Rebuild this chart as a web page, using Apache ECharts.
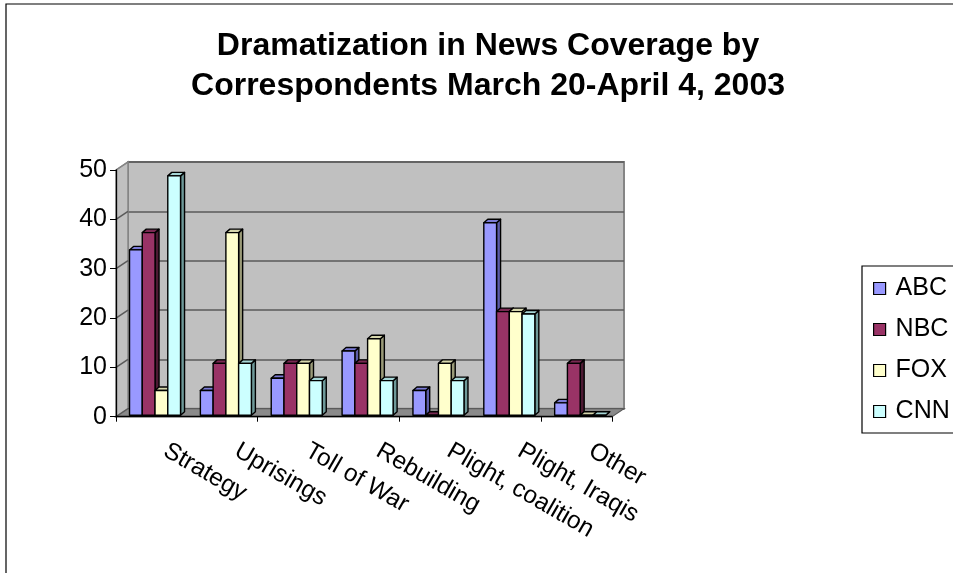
<!DOCTYPE html>
<html>
<head>
<meta charset="utf-8">
<script src="https://cdn.jsdelivr.net/npm/echarts@6/dist/echarts.min.js"></script>
<style>
html,body{margin:0;padding:0;background:#fff;}
#c{width:953px;height:573px;}
</style>
</head>
<body>
<div id="c"></div>
<script>
// ---- data ----
const categories = ['Strategy', 'Uprisings', 'Toll of War', 'Rebuilding', 'Plight, coalition', 'Plight, Iraqis', 'Other'];
const seriesNames = ['ABC', 'NBC', 'FOX', 'CNN'];
const abc = [33.5, 5, 7.5, 13, 5, 39, 2.5];
const nbc = [37, 10.5, 10.5, 10.5, 0, 21, 10.5];
const fox = [5, 37, 10.5, 15.5, 10.5, 21, 0];
const cnn = [48.5, 10.5, 7, 7, 7, 20.5, 0];
const yMin = 0, yMax = 50, yStep = 10;
const titleLines = ['Dramatization in News Coverage by', 'Correspondents March 20-April 4, 2003'];

// ---- styles ----
const FONT = 'Liberation Sans, Arial, sans-serif';
const faceColors = [
  {front: '#9999FF', top: '#7B7BD6', side: '#5C5CA8'},
  {front: '#993366', top: '#7A2952', side: '#4D1A33'},
  {front: '#FFFFCC', top: '#D6D6AC', side: '#9A9A78'},
  {front: '#CCFFFF', top: '#A6D6D6', side: '#6E9999'}
];
const allValues = [abc, nbc, fox, cnn];

const FRONT = {left: 116, top: 170, width: 496, height: 246.7};
const BACK = {left: 128, top: 162, width: 496, height: 246.7};
const BARS = {left: 119.6, top: 168.5, width: 496, height: 246.7};
const LABELS = {left: 130, top: 168.5, width: 496, height: 246.7};
const BAR_DX = 4, BAR_DY = -3.5;

function makeRender(sIdx) {
  return function (params, api) {
    const ci = api.value(0), v = api.value(1);
    const top = api.coord([ci, v]);
    const base = api.coord([ci, 0]);
    const band = api.size([1, 0])[0];
    const bw = band * 0.18;
    const gw = bw * 4;
    const x0 = top[0] - gw / 2 + sIdx * bw;
    const x1 = x0 + bw;
    const yt = top[1], yb = base[1];
    const c = faceColors[sIdx];
    const stroke = {stroke: '#000', lineWidth: 1.4, lineJoin: 'round'};
    return {
      type: 'group',
      children: [
        {type: 'polygon', shape: {points: [[x1, yt], [x1 + BAR_DX, yt + BAR_DY], [x1 + BAR_DX, yb + BAR_DY], [x1, yb]]},
          style: Object.assign({fill: c.side}, stroke)},
        {type: 'polygon', shape: {points: [[x0, yt], [x1, yt], [x1 + BAR_DX, yt + BAR_DY], [x0 + BAR_DX, yt + BAR_DY]]},
          style: Object.assign({fill: c.top}, stroke)},
        {type: 'rect', shape: {x: x0, y: yt, width: bw, height: Math.max(yb - yt, 0)},
          style: Object.assign({fill: c.front}, stroke)}
      ]
    };
  };
}

const chart = echarts.init(document.getElementById('c'), null, {renderer: 'canvas'});

const option = {
  animation: false,
  backgroundColor: '#fff',
  title: {
    text: titleLines.join('\n'),
    left: 483, top: 21, textAlign: 'center',
    textStyle: {fontFamily: FONT, fontSize: 32, fontWeight: 'bold', color: '#000', lineHeight: 40}
  },
  legend: {
    orient: 'vertical', left: 873, top: 276, padding: 0,
    itemWidth: 12, itemHeight: 12, itemGap: 16, icon: 'rect',
    textStyle: {fontFamily: FONT, fontSize: 25, color: '#000', lineHeight: 25, padding: [0, 0, 0, 5]},
    data: seriesNames.map((n, i) => ({name: n, itemStyle: {color: faceColors[i].front, borderColor: '#000', borderWidth: 1.2}}))
  },
  grid: [
    {left: FRONT.left, top: FRONT.top, width: FRONT.width, height: FRONT.height},
    {left: BACK.left, top: BACK.top, width: BACK.width, height: BACK.height, show: true,
      backgroundColor: '#C0C0C0', borderColor: '#858585', borderWidth: 2},
    {left: BARS.left, top: BARS.top, width: BARS.width, height: BARS.height},
    {left: LABELS.left, top: LABELS.top, width: LABELS.width, height: LABELS.height}
  ],
  xAxis: [
    {type: 'category', gridIndex: 0, data: categories, boundaryGap: true, z: 6,
      axisLine: {show: true, lineStyle: {color: '#000', width: 1.3}},
      axisTick: {show: true, length: 5, lineStyle: {color: '#000', width: 1}},
      axisLabel: {show: false}, splitLine: {show: false}},
    {type: 'category', gridIndex: 1, data: categories, show: false},
    {type: 'category', gridIndex: 2, data: categories, show: false},
    {type: 'category', gridIndex: 3, data: categories, boundaryGap: true,
      axisLine: {show: false}, axisTick: {show: false}, splitLine: {show: false},
      axisLabel: {show: true, interval: 0, rotate: -30, margin: 34, fontFamily: FONT, fontSize: 24.5, color: '#000'}}
  ],
  yAxis: [
    {type: 'value', gridIndex: 0, min: yMin, max: yMax, interval: yStep, z: 6,
      axisLine: {show: true, lineStyle: {color: '#000', width: 1.3}},
      axisTick: {show: true, length: 6, lineStyle: {color: '#000', width: 1}},
      axisLabel: {margin: 9, fontFamily: FONT, fontSize: 25, color: '#000'},
      splitLine: {show: false}},
    {type: 'value', gridIndex: 1, min: yMin, max: yMax, interval: yStep,
      axisLine: {show: false}, axisTick: {show: false}, axisLabel: {show: false},
      splitLine: {show: true, lineStyle: {color: '#5a5a5a', width: 1.6}}},
    {type: 'value', gridIndex: 2, min: yMin, max: yMax, interval: yStep, show: false},
    {type: 'value', gridIndex: 3, min: yMin, max: yMax, interval: yStep, show: false}
  ],
  series: seriesNames.map((name, s) => ({
    name: name,
    type: 'custom',
    xAxisIndex: 2, yAxisIndex: 2,
    z: 3,
    itemStyle: {color: faceColors[s].front},
    encode: {x: 0, y: 1},
    renderItem: makeRender(s),
    data: allValues[s].map((v, i) => [i, v])
  }))
};
chart.setOption(option);

// ---- 3D decorations: side wall, floor, frame, legend box ----
const ticks = [];
for (let v = yMin; v <= yMax; v += yStep) ticks.push(v);
const fx0 = chart.convertToPixel({xAxisIndex: 0}, 0) - FRONT.width / categories.length / 2;
const fx1 = fx0 + FRONT.width;
const bx0 = BACK.left, bx1 = BACK.left + BACK.width;
const fy = v => chart.convertToPixel({yAxisIndex: 0}, v);
const by = v => chart.convertToPixel({yAxisIndex: 1}, v);

const deco = [];
deco.push({type: 'polygon', z: 1, shape: {points: [[fx0, fy(yMax)], [bx0, by(yMax)], [bx0, by(yMin)], [fx0, fy(yMin)]]},
  style: {fill: '#C0C0C0', stroke: '#858585', lineWidth: 1.5}});
ticks.forEach(v => {
  if (v === yMin) return;
  deco.push({type: 'line', z: 1, shape: {x1: fx0, y1: fy(v), x2: bx0, y2: by(v)},
    style: {stroke: v === yMax ? '#858585' : '#5a5a5a', lineWidth: 1.5}});
});
deco.push({type: 'polygon', z: 1, shape: {points: [[fx0, fy(yMin)], [fx1, fy(yMin)], [bx1, by(yMin)], [bx0, by(yMin)]]},
  style: {fill: '#8A8A8A', stroke: '#5a5a5a', lineWidth: 1.2}});
deco.push({type: 'rect', z: 1, shape: {x: 862, y: 266, width: 120, height: 167},
  style: {fill: 'none', stroke: '#000', lineWidth: 1.2}});
deco.push({type: 'rect', z: 1, shape: {x: 6, y: 4, width: 1000, height: 1000},
  style: {fill: 'none', stroke: '#000', lineWidth: 1.2}});

chart.setOption({graphic: {elements: deco}});
</script>
</body>
</html>
